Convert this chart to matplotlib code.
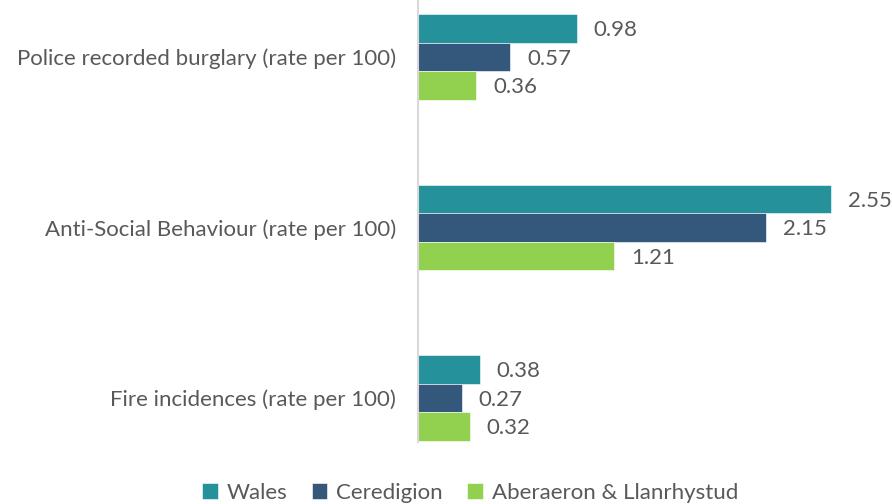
import matplotlib
matplotlib.use("Agg")
import matplotlib.pyplot as plt
import numpy as np

categories = [
    "Police recorded burglary (rate per 100)",
    "Anti-Social Behaviour (rate per 100)",
    "Fire incidences (rate per 100)",
]
series_names = ["Wales", "Ceredigion", "Aberaeron & Llanrhystud"]
wales = [0.98, 2.55, 0.38]
ceredigion = [0.57, 2.15, 0.27]
aberaeron = [0.36, 1.21, 0.32]
colors = ["#25919B", "#34577C", "#92D050"]

plt.rcParams["font.family"] = ["Lato", "DejaVu Sans"]
TEXT = "#595959"
FS = 16

W, H = 892, 504
fig = plt.figure(figsize=(W / 100, H / 100), dpi=100)
ax = fig.add_axes([418 / W, (H - 442) / H, (W - 418) / W, 442 / H])

y = np.arange(len(categories))
bh = 0.167
for i, (vals, name, c) in enumerate(zip([wales, ceredigion, aberaeron], series_names, colors)):
    pos = y + (i - 1) * bh
    bars = ax.barh(pos, vals, height=bh, color=c, label=name, edgecolor="white", linewidth=0.4)
    for b, v in zip(bars, vals):
        ax.text(v + 0.105, b.get_y() + b.get_height() / 2 + 0.01, f"{v:.2f}",
                va="center", ha="left", fontsize=FS, color=TEXT)

ax.set_ylim(2.258, -0.334)
ax.set_xlim(0, 2.926)
ax.set_yticks(y)
ax.set_yticklabels(categories, fontsize=FS, color=TEXT)
ax.tick_params(axis="y", length=0, pad=16)
ax.set_xticks([])
for s in ["top", "right", "bottom"]:
    ax.spines[s].set_visible(False)
ax.spines["left"].set_color("#D9D9D9")
ax.spines["left"].set_linewidth(1.5)

leg = fig.legend(loc="center", bbox_to_anchor=(470 / W, (H - 493) / H), ncol=3,
                 frameon=False, fontsize=FS, handlelength=0.7, handleheight=0.7,
                 handletextpad=0.4, columnspacing=1.1, labelcolor=TEXT)

fig.savefig("out.png", dpi=100)
